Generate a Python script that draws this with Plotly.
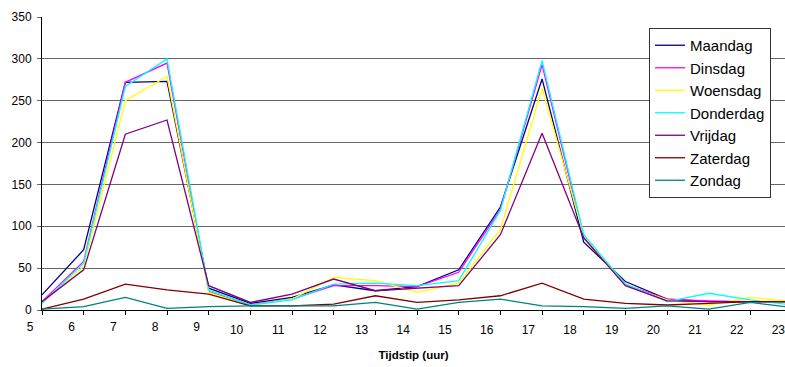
import plotly.graph_objects as go

# Hours of the day (uur)
hours = list(range(5, 24))

maandag = [18, 72, 272, 273, 26, 8, 15, 30, 23, 28, 48, 123, 276, 81, 34, 13, 10, 10, 10]
dinsdag = [10, 58, 272, 295, 22, 6, 13, 29, 29, 28, 45, 120, 293, 87, 30, 13, 11, 10, 10]
woensdag = [9, 52, 250, 279, 21, 5, 13, 39, 35, 21, 32, 96, 265, 89, 29, 12, 6, 15, 10]
donderdag = [8, 56, 267, 300, 24, 6, 12, 31, 32, 29, 35, 119, 298, 90, 31, 10, 20, 12, 6]
vrijdag = [10, 48, 210, 227, 29, 9, 19, 37, 23, 26, 29, 90, 211, 86, 29, 11, 10, 10, 10]
zaterdag = [1, 13, 31, 24, 19, 5, 5, 7, 17, 9, 12, 17, 32, 13, 8, 6, 8, 10, 10]
zondag = [1, 4, 15, 2, 4, 5, 5, 5, 9, 1, 9, 13, 5, 4, 2, 5, 1, 9, 3]

# name, values, colour, x axis (x and x2 share one range)
series = [
    ("Maandag", maandag, "#000080", "x"),
    ("Dinsdag", dinsdag, "#FF00FF", "x"),
    ("Woensdag", woensdag, "#FFFF00", "x"),
    ("Donderdag", donderdag, "#00FFFF", "x"),
    ("Vrijdag", vrijdag, "#800080", "x"),
    ("Zaterdag", zaterdag, "#800000", "x2"),
    ("Zondag", zondag, "#008080", "x2"),
]

FONT = "Arial, Liberation Sans, sans-serif"
x_range = [5, 22.83]
# two-digit hour labels sit ~13 px left of their tick: an axis offset by 0.33 h
label_offset = 0.33
x_range_labels = [x_range[0] + label_offset, x_range[1] + label_offset]

fig = go.Figure()
for name, vals, color, xa in series:
    fig.add_trace(go.Scatter(
        x=hours, y=vals, name=name, mode="lines", xaxis=xa, yaxis="y",
        line=dict(color=color, width=1.3),
    ))
# empty trace so the label-only axis x3 gets drawn
fig.add_trace(go.Scatter(x=[None], y=[None], xaxis="x3", yaxis="y",
                         showlegend=False, hoverinfo="skip", mode="lines"))

one_digit = [h for h in hours if h < 10]
two_digit = [h for h in hours if h >= 10]

fig.update_layout(
    width=785, height=367,
    margin=dict(l=42, r=0, t=17, b=57),
    paper_bgcolor="white", plot_bgcolor="white",
    font=dict(family=FONT, size=12, color="black"),
    showlegend=True,
    legend=dict(
        x=(649 - 42) / 743, y=(310 - 28) / 293,
        xanchor="left", yanchor="top",
        bgcolor="white", bordercolor="#333", borderwidth=1,
        font=dict(family=FONT, size=15, color="black"),
        tracegroupgap=0,
    ),
    xaxis=dict(
        range=x_range, tickvals=hours, showticklabels=False,
        ticks="outside", ticklen=4, tickcolor="black",
        showline=True, linecolor="black", linewidth=1,
        showgrid=False, zeroline=False,
        title=dict(text="<b>Tijdstip (uur)</b>",
                   font=dict(family=FONT, size=11.5), standoff=36),
    ),
    xaxis2=dict(
        range=x_range, overlaying="x", anchor="y", side="bottom",
        tickvals=one_digit, ticktext=[str(h) for h in one_digit],
        ticklabelshift=-12, ticklabeloverflow="allow",
        ticks="", showline=False, showgrid=False, zeroline=False,
        ticklabelstandoff=8,
    ),
    xaxis3=dict(
        range=x_range_labels, overlaying="x", anchor="y", side="bottom",
        tickvals=two_digit, ticktext=[str(h) for h in two_digit],
        ticklabeloverflow="allow",
        ticks="", showline=False, showgrid=False, zeroline=False,
        ticklabelstandoff=11,
    ),
    yaxis=dict(
        range=[0, 350], dtick=50,
        ticks="outside", ticklen=4, tickcolor="#666",
        showline=True, linecolor="black", linewidth=1,
        showgrid=True, gridcolor="#666", gridwidth=1,
        zeroline=False, ticklabelstandoff=3,
    ),
)

fig.write_html("out.html")
